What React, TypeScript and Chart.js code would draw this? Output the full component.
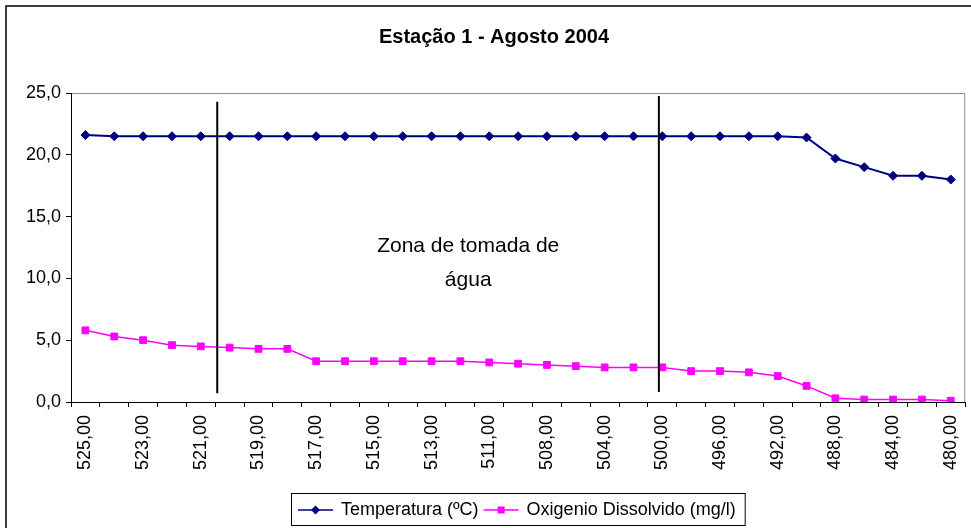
import React, { useEffect, useRef } from "react";
import { Chart, registerables } from "chart.js";

Chart.register(...registerables);

// Depth positions along the profile (m)
const depths = [
  "525,00", "524,00", "523,00", "522,00", "521,00", "520,00", "519,00", "518,00",
  "517,00", "516,00", "515,00", "514,00", "513,00", "512,00", "511,00", "510,00",
  "508,00", "506,00", "504,00", "502,00", "500,00", "498,00", "496,00", "494,00",
  "492,00", "490,00", "488,00", "486,00", "484,00", "482,00", "480,00",
];

const temperatura = [
  21.6, 21.5, 21.5, 21.5, 21.5, 21.5, 21.5, 21.5, 21.5, 21.5, 21.5, 21.5, 21.5,
  21.5, 21.5, 21.5, 21.5, 21.5, 21.5, 21.5, 21.5, 21.5, 21.5, 21.5, 21.5, 21.4,
  19.7, 19.0, 18.3, 18.3, 18.0,
];

const oxigenio = [
  5.8, 5.3, 5.0, 4.6, 4.5, 4.4, 4.3, 4.3, 3.3, 3.3, 3.3, 3.3, 3.3, 3.3, 3.2, 3.1,
  3.0, 2.9, 2.8, 2.8, 2.8, 2.5, 2.5, 2.4, 2.1, 1.3, 0.3, 0.2, 0.2, 0.2, 0.1,
];

const yTicks = [0, 5, 10, 15, 20, 25];

// Intake zone boundaries (category index position, value range)
const dividerX = [4.57, 19.88];
const dividerTop = [24.3, 24.75];
const dividerBottom = [0.7, 0.8];

// Intake zone caption anchor (category index, value)
const noteLines = ["Zona de tomada de", "água"];
const noteX = 13.27;
const noteY = [12.63, 9.85];

const FONT = "'Liberation Sans', Arial, sans-serif";

const fmt = (v: number) => v.toFixed(1).replace(".", ",");

const framePlugin = {
  id: "frame",
  beforeDraw(chart: any) {
    const { ctx, width, height, chartArea: a } = chart;
    ctx.save();
    ctx.fillStyle = "#ffffff";
    ctx.fillRect(0, 0, width, height);
    // outer chart border
    ctx.strokeStyle = "#000000";
    ctx.lineWidth = 1.5;
    ctx.beginPath();
    ctx.moveTo(6, height + 5);
    ctx.lineTo(6, 6);
    ctx.lineTo(width + 5, 6);
    ctx.stroke();
    // plot area border
    ctx.strokeStyle = "#8c8c8c";
    ctx.lineWidth = 1;
    ctx.strokeRect(a.left + 0.5, a.top + 0.5, a.right - a.left - 1, a.bottom - a.top);
    ctx.restore();
  },
  afterDatasetsDraw(chart: any) {
    const { ctx } = chart;
    const xs = chart.scales.x;
    const ys = chart.scales.y;
    ctx.save();
    ctx.strokeStyle = "#000000";
    ctx.lineWidth = 2;
    dividerX.forEach((dx, i) => {
      const px = xs.getPixelForValue(dx);
      ctx.beginPath();
      ctx.moveTo(px, ys.getPixelForValue(dividerTop[i]));
      ctx.lineTo(px, ys.getPixelForValue(dividerBottom[i]));
      ctx.stroke();
    });
    ctx.fillStyle = "#000000";
    ctx.font = `21px ${FONT}`;
    ctx.textAlign = "center";
    ctx.textBaseline = "middle";
    noteLines.forEach((t, i) => {
      ctx.fillText(t, xs.getPixelForValue(noteX), ys.getPixelForValue(noteY[i]));
    });
    ctx.restore();
  },
  afterDraw(chart: any) {
    const { ctx, chartArea: a } = chart;
    const sets = chart.data.datasets;
    ctx.save();
    ctx.font = `18px ${FONT}`;
    ctx.textBaseline = "middle";
    const padL = 7;
    const sample = 35;
    const gap = 8;
    const itemGap = 5;
    const padR = 9;
    const widths = sets.map((d: any) => ctx.measureText(d.label).width);
    let total = padL + padR;
    widths.forEach((w: number, i: number) => {
      total += sample + gap + w + (i > 0 ? itemGap : 0);
    });
    const boxTop = 493;
    const boxH = 32;
    let x = Math.round((a.left + a.right) / 2 - total / 2);
    ctx.strokeStyle = "#000000";
    ctx.lineWidth = 1;
    ctx.strokeRect(x + 0.5, boxTop + 0.5, total, boxH);
    const cy = boxTop + boxH / 2 + 1;
    x += padL;
    sets.forEach((d: any, i: number) => {
      if (i > 0) x += itemGap;
      ctx.strokeStyle = d.borderColor;
      ctx.lineWidth = 1.5;
      ctx.beginPath();
      ctx.moveTo(x, cy);
      ctx.lineTo(x + sample, cy);
      ctx.stroke();
      ctx.fillStyle = d.pointBackgroundColor;
      const mx = x + sample / 2;
      ctx.beginPath();
      if (d.pointStyle === "rectRot") {
        ctx.moveTo(mx, cy - 4.5);
        ctx.lineTo(mx + 4.5, cy);
        ctx.lineTo(mx, cy + 4.5);
        ctx.lineTo(mx - 4.5, cy);
        ctx.closePath();
      } else {
        ctx.rect(mx - 3.5, cy - 3.5, 7, 7);
      }
      ctx.fill();
      x += sample + gap;
      ctx.fillStyle = "#000000";
      ctx.fillText(d.label, x, cy);
      x += widths[i];
    });
    ctx.restore();
  },
};

export default function App() {
  const ref = useRef<HTMLCanvasElement | null>(null);

  useEffect(() => {
    if (!ref.current) return;
    const chart = new Chart(ref.current, {
      type: "line",
      data: {
        labels: depths,
        datasets: [
          {
            label: "Temperatura (ºC)",
            data: temperatura,
            borderColor: "#000080",
            backgroundColor: "#000080",
            pointBackgroundColor: "#000080",
            pointBorderColor: "#000080",
            pointStyle: "rectRot",
            pointRadius: 4.5,
            pointBorderWidth: 1,
            borderWidth: 2,
            tension: 0,
          },
          {
            label: "Oxigenio Dissolvido (mg/l)",
            data: oxigenio,
            borderColor: "#ff00ff",
            backgroundColor: "#ff00ff",
            pointBackgroundColor: "#ff00ff",
            pointBorderColor: "#ff00ff",
            pointStyle: "rect",
            pointRadius: 4.8,
            pointBorderWidth: 1,
            borderWidth: 1.5,
            tension: 0,
          },
        ],
      },
      options: {
        responsive: false,
        animation: false,
        layout: { padding: { left: 19, right: 2, top: 0, bottom: 46 } },
        font: { family: FONT },
        plugins: {
          legend: { display: false },
          tooltip: { enabled: false },
          title: {
            display: true,
            text: "Estação 1 - Agosto 2004",
            color: "#000000",
            font: { family: FONT, size: 20, weight: "bold" },
            padding: { top: 25, bottom: 44 },
          },
        },
        scales: {
          x: {
            type: "category",
            offset: true,
            afterFit: (s: any) => {
              s.height = 80;
              s.paddingLeft = 0;
              s.paddingRight = 0;
            },
            grid: {
              offset: true,
              drawOnChartArea: false,
              drawTicks: true,
              tickLength: 5,
              color: "#000000",
            },
            border: { color: "#000000", width: 1 },
            ticks: {
              autoSkip: false,
              minRotation: 90,
              maxRotation: 90,
              padding: 8,
              color: "#000000",
              font: { family: FONT, size: 18 },
              callback: function (this: any, value: any, index: number) {
                return index % 2 === 0 ? this.getLabelForValue(value) : "";
              },
            },
          },
          y: {
            min: 0,
            max: 25,
            afterFit: (s: any) => {
              s.width = 52;
              s.paddingTop = 0;
              s.paddingBottom = 0;
            },
            afterBuildTicks: (s: any) => {
              s.ticks = yTicks.map((v) => ({ value: v }));
            },
            grid: {
              drawOnChartArea: false,
              drawTicks: true,
              tickLength: 5,
              color: "#000000",
            },
            border: { color: "#000000", width: 1 },
            ticks: {
              padding: 5,
              color: "#000000",
              font: { family: FONT, size: 18 },
              callback: (v: any) => fmt(Number(v)),
            },
          },
        },
      },
      plugins: [framePlugin],
    });
    return () => chart.destroy();
  }, []);

  return (
    <div style={{ position: "fixed", left: 0, top: 0, width: 971, height: 528, background: "#fff" }}>
      <canvas ref={ref} width={971} height={528} style={{ display: "block" }} />
    </div>
  );
}
